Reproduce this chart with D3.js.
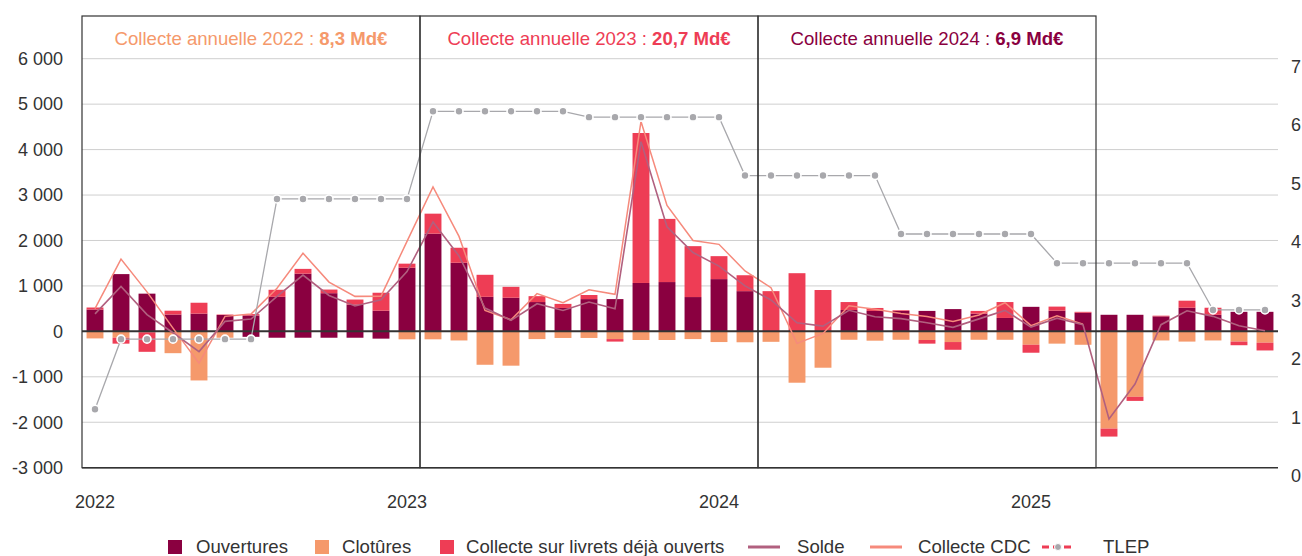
<!DOCTYPE html>
<html>
<head>
<meta charset="utf-8">
<title>Collecte LEP</title>
<script src="https://cdn.jsdelivr.net/npm/d3@7"></script>
<style>
html, body {
  margin: 0;
  background: #fff;
}
svg {
  display: block;
  font-family: "Liberation Sans", Arial, Helvetica, sans-serif;
}
.tick text {
  font-size: 18px;
  fill: #333;
}
</style>
</head>
<body>
<svg id="chart" width="1302" height="556"></svg>
<script>

// months, Jan 2022 -> Oct 2025
var months = [
  "2022-01","2022-02","2022-03","2022-04","2022-05","2022-06","2022-07","2022-08","2022-09","2022-10","2022-11","2022-12",
  "2023-01","2023-02","2023-03","2023-04","2023-05","2023-06","2023-07","2023-08","2023-09","2023-10","2023-11","2023-12",
  "2024-01","2024-02","2024-03","2024-04","2024-05","2024-06","2024-07","2024-08","2024-09","2024-10","2024-11","2024-12",
  "2025-01","2025-02","2025-03","2025-04","2025-05","2025-06","2025-07","2025-08","2025-09","2025-10"
];

// M€
var ouvertures = [480, 1260, 830, 370, 390, 360, 350, 760, 1270, 840, 590, 455,
  1400, 2150, 1510, 760, 740, 645, 515, 710, 710, 1065, 1085, 755,
  1150, 885, 0, 0, 0, 470, 450, 450, 450, 490, 390, 295,
  540, 455, 410, 365, 365, 330, 520, 365, 430, 430];

// part of the dark series that sits under zero (mid 2022)
var ouverturesNeg = [0, 0, 0, 0, 0, 0, -120, -140, -140, -140, -140, -160,
  0, 0, 0, 0, 0, 0, 0, 0, 0, 0, 0, 0,
  0, 0, 0, 0, 0, 0, 0, 0, 0, 0, 0, 0,
  0, 0, 0, 0, 0, 0, 0, 0, 0, 0];

var clotures = [-155, -140, -20, -480, -1080, -140, 0, 0, 0, 0, 0, 0,
  -175, -175, -200, -735, -755, -170, -145, -145, -170, -190, -190, -170,
  -235, -240, -230, -1130, -800, -185, -205, -185, -190, -235, -185, -185,
  -295, -270, -295, -2140, -1440, -200, -225, -200, -225, -250];

var collecte = [45, -130, -430, 85, 240, 10, 30, 155, 105, 80, 110, 395,
  90, 440, 330, 485, 240, 130, 90, 90, -55, 3300, 1390, 1120,
  505, 350, 885, 1280, 910, 175, 65, 15, -80, -170, 60, 350,
  -175, 90, 20, -175, -90, 15, 155, 155, -80, -170];

var solde = [385, 990, 370, -30, -445, 220, 270, 770, 1240, 790, 560, 695,
  1315, 2405, 1660, 513, 240, 608, 460, 645, 495, 4175, 2300, 1735,
  1435, 1000, 690, 190, 115, 465, 320, 280, 190, 88, 275, 462,
  95, 290, 145, -1930, -1158, 147, 452, 330, 125, 15];

// Collecte CDC stops in March 2025
var collecteCDC = [500, 1590, 870, 70, -700, 330, 380, 950, 1720, 1085, 770, 775,
  1980, 3180, 2090, 460, 255, 830, 630, 915, 815, 4620, 2770, 2000,
  1915, 1330, 960, -265, -45, 565, 485, 395, 325, 215, 360, 630,
  125, 345, 160];

// %
var tlep = [1.0, 2.2, 2.2, 2.2, 2.2, 2.2, 2.2, 4.6, 4.6, 4.6, 4.6, 4.6,
  4.6, 6.1, 6.1, 6.1, 6.1, 6.1, 6.1, 6.0, 6.0, 6.0, 6.0, 6.0,
  6.0, 5.0, 5.0, 5.0, 5.0, 5.0, 5.0, 4.0, 4.0, 4.0, 4.0, 4.0,
  4.0, 3.5, 3.5, 3.5, 3.5, 3.5, 3.5, 2.7, 2.7, 2.7];

var leftTicks = [-3000, -2000, -1000, 0, 1000, 2000, 3000, 4000, 5000, 6000];
var rightTicks = [0, 1, 2, 3, 4, 5, 6, 7];
var yearTicks = ["2022-01", "2023-01", "2024-01", "2025-01"];

var boxYears = ["2022", "2023", "2024"];
var boxAmounts = ["8,3 Md€", "20,7 Md€", "6,9 Md€"];
var boxStart = [0, 13, 26];
var boxEnd = [13, 26, 39];

var legendLabels = ["Ouvertures", "Clotûres", "Collecte sur livrets déjà ouverts", "Solde", "Collecte CDC", "TLEP"];

// ---------------------------------------------------------------

var C_OUV = "#8a0040",
    C_CLO = "#f5996b",
    C_COL = "#ee3d55",
    C_SOL = "#b1607f",
    C_CDC = "#f68a7c",
    C_TLEP = "#a8a8ac",
    boxColors = [C_CLO, C_COL, C_OUV];

var plotL = 82, plotR = 1278, plotT = 58.7, plotB = 467.7, boxTop = 16;

var svg = d3.select("#chart");

var x = d3.scaleBand()
    .domain(months)
    .range([plotL, plotR])
    .paddingInner(0.35)
    .paddingOuter(0.175);

var y = d3.scaleLinear().domain([-3000, 6000]).range([plotB, plotT]);
var y2 = d3.scaleLinear().domain([0, 7]).range([plotB, plotT]);

var bw = x.bandwidth();
function cx(m) { return x(m) + bw / 2; }
function edge(i) { return x(months[i]) - x.step() * x.paddingInner() / 2; }

var fr = d3.formatLocale({decimal: ",", thousands: " ", grouping: [3], currency: ["", " €"], minus: "-"});
var fmt = fr.format(",d");

// grid
svg.append("g")
  .selectAll("line")
  .data(leftTicks.filter(function(d) { return d > -3000; }))
  .join("line")
    .attr("x1", plotL).attr("x2", plotR)
    .attr("y1", function(d) { return y(d); })
    .attr("y2", function(d) { return y(d); })
    .attr("stroke", "#cfcfcf")
    .attr("stroke-width", 1);

// left axis
svg.append("g")
    .attr("transform", "translate(" + plotL + ",0)")
    .call(d3.axisLeft(y).tickValues(leftTicks).tickFormat(fmt).tickSize(0).tickPadding(19))
    .call(function(g) { g.select(".domain").remove(); });

// right axis
svg.append("g")
    .attr("transform", "translate(" + plotR + ",0)")
    .call(d3.axisRight(y2).tickValues(rightTicks).tickFormat(d3.format("d")).tickSize(0).tickPadding(13))
    .call(function(g) {
      g.select(".domain").remove();
      g.selectAll("text").attr("y", 8);
    });

// bottom axis (years)
svg.append("g")
    .attr("transform", "translate(0," + (plotB + 16) + ")")
    .call(d3.axisBottom(x).tickValues(yearTicks).tickFormat(function(d) { return d.slice(0, 4); }).tickSize(0).tickPadding(12))
    .call(function(g) { g.select(".domain").remove(); });

// stacked bars
var rows = months.map(function(m, i) {
  return {month: m, ouv: ouvertures[i], ouvNeg: ouverturesNeg[i], clo: clotures[i], col: collecte[i]};
});

var keys = ["ouv", "ouvNeg", "clo", "col"],
    keyColor = {ouv: C_OUV, ouvNeg: C_OUV, clo: C_CLO, col: C_COL};

var series = d3.stack().keys(keys).offset(d3.stackOffsetDiverging)(rows);

svg.append("g")
  .selectAll("g")
  .data(series)
  .join("g")
    .attr("fill", function(s) { return keyColor[s.key]; })
  .selectAll("rect")
  .data(function(s) { return s; })
  .join("rect")
    .attr("x", function(d) { return x(d.data.month); })
    .attr("width", bw)
    .attr("y", function(d) { return y(Math.max(d[0], d[1])); })
    .attr("height", function(d) { return Math.abs(y(d[0]) - y(d[1])); });

// zero + bottom lines
svg.append("line")
    .attr("x1", plotL).attr("x2", plotR)
    .attr("y1", y(0)).attr("y2", y(0))
    .attr("stroke", "#333").attr("stroke-width", 2);

svg.append("line")
    .attr("x1", plotL).attr("x2", plotR)
    .attr("y1", plotB).attr("y2", plotB)
    .attr("stroke", "#333").attr("stroke-width", 1.5);

// lines
var line = d3.line()
    .x(function(d, i) { return cx(months[i]); })
    .y(function(d) { return y(d); });

svg.append("path")
    .datum(collecteCDC)
    .attr("d", line)
    .attr("fill", "none")
    .attr("stroke", C_CDC)
    .attr("stroke-width", 1.5);

svg.append("path")
    .datum(solde)
    .attr("d", line)
    .attr("fill", "none")
    .attr("stroke", C_SOL)
    .attr("stroke-width", 1.6);

// TLEP
var line2 = d3.line()
    .x(function(d, i) { return cx(months[i]); })
    .y(function(d) { return y2(d); });

svg.append("path")
    .datum(tlep)
    .attr("d", line2)
    .attr("fill", "none")
    .attr("stroke", C_TLEP)
    .attr("stroke-width", 1.3);

svg.append("g")
  .selectAll("circle")
  .data(tlep)
  .join("circle")
    .attr("cx", function(d, i) { return cx(months[i]); })
    .attr("cy", function(d) { return y2(d); })
    .attr("r", 4)
    .attr("fill", C_TLEP)
    .attr("stroke", "#fff")
    .attr("stroke-width", 1.6);

// annual boxes
var boxes = svg.append("g")
  .selectAll("g")
  .data(boxYears)
  .join("g");

boxes.append("rect")
    .attr("x", function(d, i) { return edge(boxStart[i]); })
    .attr("width", function(d, i) { return edge(boxEnd[i]) - edge(boxStart[i]); })
    .attr("y", boxTop)
    .attr("height", plotB - boxTop)
    .attr("fill", "none")
    .attr("stroke", "#333")
    .attr("stroke-width", 1.2);

var bt = boxes.append("text")
    .attr("x", function(d, i) { return (edge(boxStart[i]) + edge(boxEnd[i])) / 2; })
    .attr("y", 45)
    .attr("text-anchor", "middle")
    .attr("font-size", 18.6)
    .attr("fill", function(d, i) { return boxColors[i]; });

bt.append("tspan").text(function(d) { return "Collecte annuelle " + d + " : "; });
bt.append("tspan").attr("font-weight", "bold").text(function(d, i) { return boxAmounts[i]; });

// legend
var legX = [168, 315, 440, 748, 870, 1042],
    legTextX = [196, 342, 466, 797, 918, 1103],
    legY = 553;

var leg = svg.append("g")
  .selectAll("g")
  .data(legendLabels)
  .join("g");

leg.append("text")
    .attr("x", function(d, i) { return legTextX[i]; })
    .attr("y", legY)
    .attr("font-size", 18.6)
    .attr("fill", "#333")
    .text(function(d) { return d; });

leg.filter(function(d, i) { return i < 3; })
  .append("rect")
    .attr("x", function(d, i) { return legX[i]; })
    .attr("y", legY - 13)
    .attr("width", 14)
    .attr("height", 14)
    .attr("fill", function(d, i) { return [C_OUV, C_CLO, C_COL][i]; });

leg.filter(function(d, i) { return i === 3 || i === 4; })
  .append("line")
    .attr("x1", function(d, i) { return legX[i + 3]; })
    .attr("x2", function(d, i) { return legX[i + 3] + 32; })
    .attr("y1", legY - 6).attr("y2", legY - 6)
    .attr("stroke", function(d, i) { return [C_SOL, C_CDC][i]; })
    .attr("stroke-width", 3);

var tl = leg.filter(function(d, i) { return i === 5; });
tl.append("line")
    .attr("x1", legX[5]).attr("x2", legX[5] + 32)
    .attr("y1", legY - 6).attr("y2", legY - 6)
    .attr("stroke", C_COL)
    .attr("stroke-width", 3)
    .attr("stroke-dasharray", "7,4");
tl.append("circle")
    .attr("cx", legX[5] + 16)
    .attr("cy", legY - 6)
    .attr("r", 3.5)
    .attr("fill", C_TLEP)
    .attr("stroke", "#fff")
    .attr("stroke-width", 1);

</script>
</body>
</html>
